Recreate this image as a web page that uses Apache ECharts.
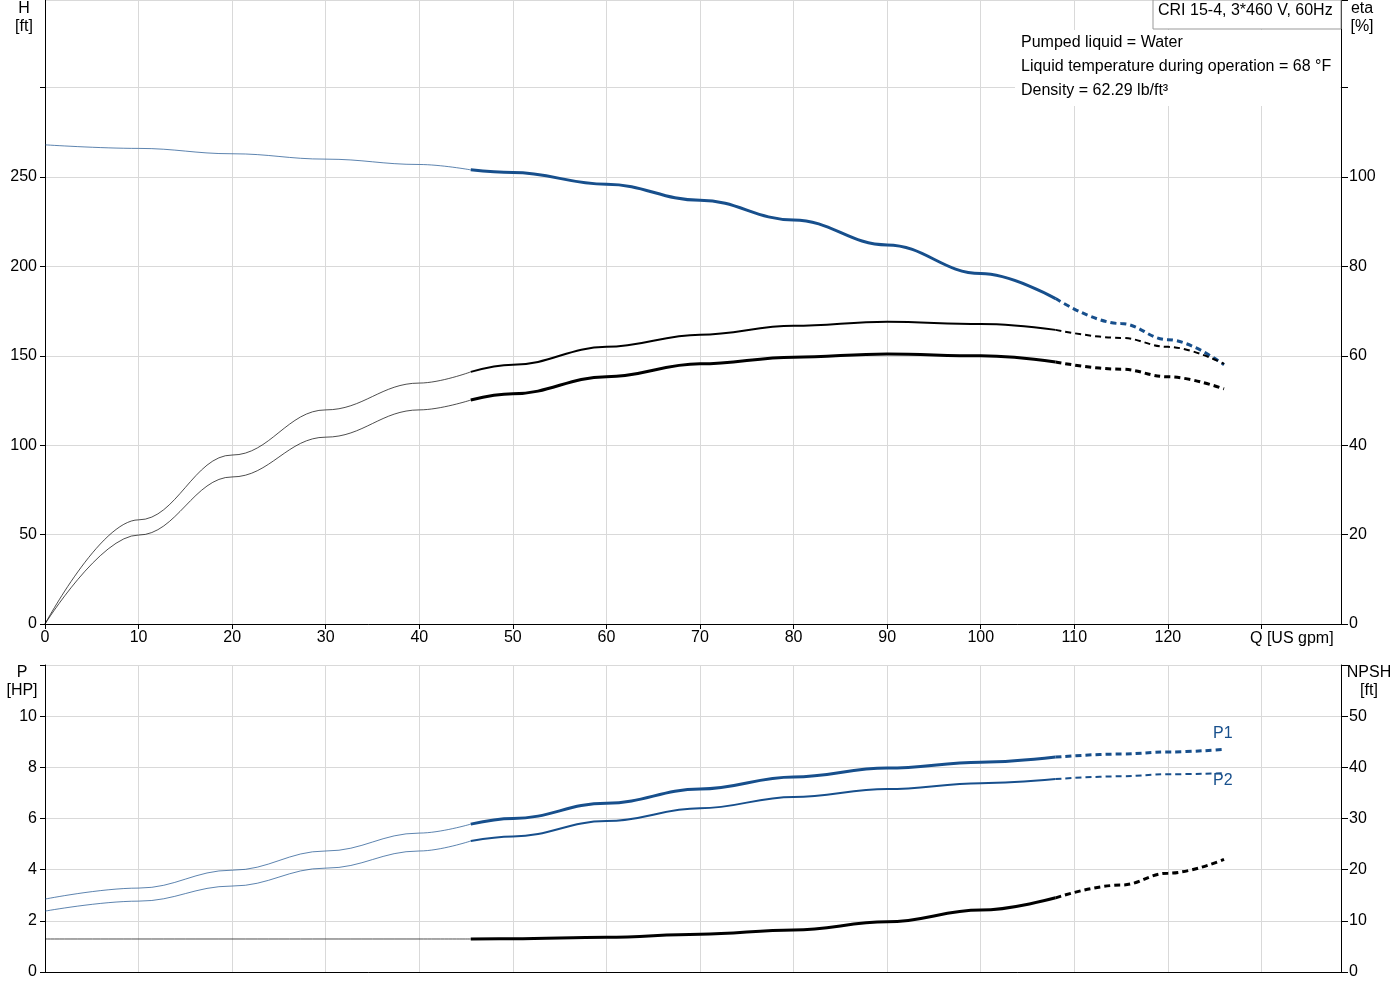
<!DOCTYPE html>
<html><head><meta charset="utf-8">
<script src="https://cdn.jsdelivr.net/npm/echarts@6/dist/echarts.min.js"></script>
<style>html,body{margin:0;padding:0;background:#fff}#c{width:1400px;height:1000px}</style>
</head><body><div id="c"></div>
<script>
const Q     = [0,10,20,30,40,45.5,50,60,70,80,90,100,108,115,120,126];
const H     = [268,266,263,260,257,254,252.5,246,237,226,212,196,182,168,159,145];
const etaP  = [0,23.3,37.8,47.9,53.9,56.4,58,62,64.7,66.7,67.6,67.1,65.8,64,62,58.2];
const etaT  = [0,19.9,32.9,41.8,47.9,50.1,51.5,55.3,58.2,59.7,60.4,60,58.6,57,55.3,52.6];
const P1    = [2.85,3.28,3.98,4.73,5.43,5.78,6.0,6.6,7.15,7.62,7.97,8.2,8.4,8.52,8.6,8.7];
const P2    = [2.38,2.77,3.36,4.06,4.73,5.12,5.3,5.9,6.4,6.84,7.15,7.38,7.54,7.65,7.73,7.77];
const NPSH  = [6.45,6.45,6.45,6.45,6.45,6.45,6.5,6.8,7.4,8.2,9.8,12.1,14.5,17,19.3,22];
const BLUE='#174f8c', BLACK='#000';
const F='Liberation Sans, Arial, sans-serif';
function seg(vals,a,b){const r=[];for(let i=a;i<=b;i++)r.push([Q[i],vals[i]]);return r;}
const series=[];
function curve(vals,xi,yi,color,w){
  const common={type:'line',smooth:0.4,smoothMonotone:'x',symbol:'none',xAxisIndex:xi,yAxisIndex:yi,silent:true};
  series.push(Object.assign({},common,{data:seg(vals,0,5),lineStyle:{color,width:0.7}}));
  series.push(Object.assign({},common,{data:seg(vals,5,12),lineStyle:{color,width:w}}));
  series.push(Object.assign({},common,{data:seg(vals,12,15),lineStyle:{color,width:w,type:[6,4]}}));
}
curve(H,0,0,BLUE,3);
curve(etaP,0,1,BLACK,2);
curve(etaT,0,1,BLACK,3);
curve(P1,1,2,BLUE,3);
curve(P2,1,2,BLUE,2);
curve(NPSH,1,3,BLACK,3);
const lbl={color:'#000',fontSize:16,fontFamily:F};
const split={show:true,lineStyle:{color:'#d9d9d9',width:1}};
const chart=echarts.init(document.getElementById('c'));
chart.setOption({
  animation:false,
  grid:[{left:45,right:59,top:0,height:624},{left:45,right:59,top:665,height:307}],
  xAxis:[
    {type:'value',gridIndex:0,min:0,max:138.5,interval:10,axisLine:{lineStyle:{color:'#000'}},axisTick:{show:true,length:5,lineStyle:{color:'#000'}},axisLabel:Object.assign({},lbl,{showMaxLabel:false,margin:6,formatter:v=>v>120?'':v}),splitLine:split},
    {type:'value',gridIndex:1,min:0,max:138.5,interval:10,axisLine:{lineStyle:{color:'#000'}},axisTick:{show:false},axisLabel:{show:false},splitLine:split}
  ],
  yAxis:[
    {type:'value',gridIndex:0,min:0,max:349,interval:50,axisLine:{show:true,lineStyle:{color:'#000'}},axisTick:{show:true,length:5,lineStyle:{color:'#000'}},axisLabel:Object.assign({},lbl,{showMaxLabel:false,formatter:v=>v>250?'':v}),splitLine:split},
    {type:'value',gridIndex:0,position:'right',min:0,max:139.6,interval:20,axisLine:{show:true,lineStyle:{color:'#000'}},axisTick:{show:true,length:7,lineStyle:{color:'#000'}},axisLabel:Object.assign({},lbl,{formatter:v=>v>100?'':v}),splitLine:{show:false}},
    {type:'value',gridIndex:1,min:0,max:12,interval:2,axisLine:{show:true,lineStyle:{color:'#000'}},axisTick:{show:true,length:5,lineStyle:{color:'#000'}},axisLabel:Object.assign({},lbl,{formatter:v=>v>10?'':v}),splitLine:split},
    {type:'value',gridIndex:1,position:'right',min:0,max:60,interval:10,axisLine:{show:true,lineStyle:{color:'#000'}},axisTick:{show:true,length:7,lineStyle:{color:'#000'}},axisLabel:Object.assign({},lbl,{formatter:v=>v>50?'':v}),splitLine:{show:false}}
  ],
  series:series,
  graphic:[
    {type:'rect',z:100,shape:{x:1015,y:30,width:325,height:76},style:{fill:'#fff'}},
    {type:'rect',z:100,shape:{x:1153,y:0,width:188,height:29},style:{fill:'#fff',stroke:'#999',lineWidth:1}},
    {type:'text',z:101,left:1158,top:3,style:{text:'CRI 15-4, 3*460 V, 60Hz',font:'16px '+F,fill:'#000'}},
    {type:'text',z:101,left:1021,top:35,style:{text:'Pumped liquid = Water',font:'16px '+F,fill:'#000'}},
    {type:'text',z:101,left:1021,top:59,style:{text:'Liquid temperature during operation = 68 °F',font:'16px '+F,fill:'#000'}},
    {type:'text',z:101,left:1021,top:83,style:{text:'Density = 62.29 lb/ft³',font:'16px '+F,fill:'#000'}},
    {type:'text',z:101,x:24,y:0,style:{text:'H\n[ft]',font:'16px '+F,fill:'#000',align:'center',lineHeight:18}},
    {type:'text',z:101,x:1362,y:0,style:{text:'eta\n[%]',font:'16px '+F,fill:'#000',align:'center',lineHeight:18}},
    {type:'text',z:101,x:22,y:664,style:{text:'P\n[HP]',font:'16px '+F,fill:'#000',align:'center',lineHeight:18}},
    {type:'text',z:101,x:1369,y:664,style:{text:'NPSH\n[ft]',font:'16px '+F,fill:'#000',align:'center',lineHeight:18}},
    {type:'text',z:101,left:1250,top:631,style:{text:'Q [US gpm]',font:'16px '+F,fill:'#000'}},
    {type:'text',z:101,left:1213,top:726,style:{text:'P1',font:'16px '+F,fill:BLUE}},
    {type:'text',z:101,left:1213,top:773,style:{text:'P2',font:'16px '+F,fill:BLUE}}
  ]
});
</script></body></html>
